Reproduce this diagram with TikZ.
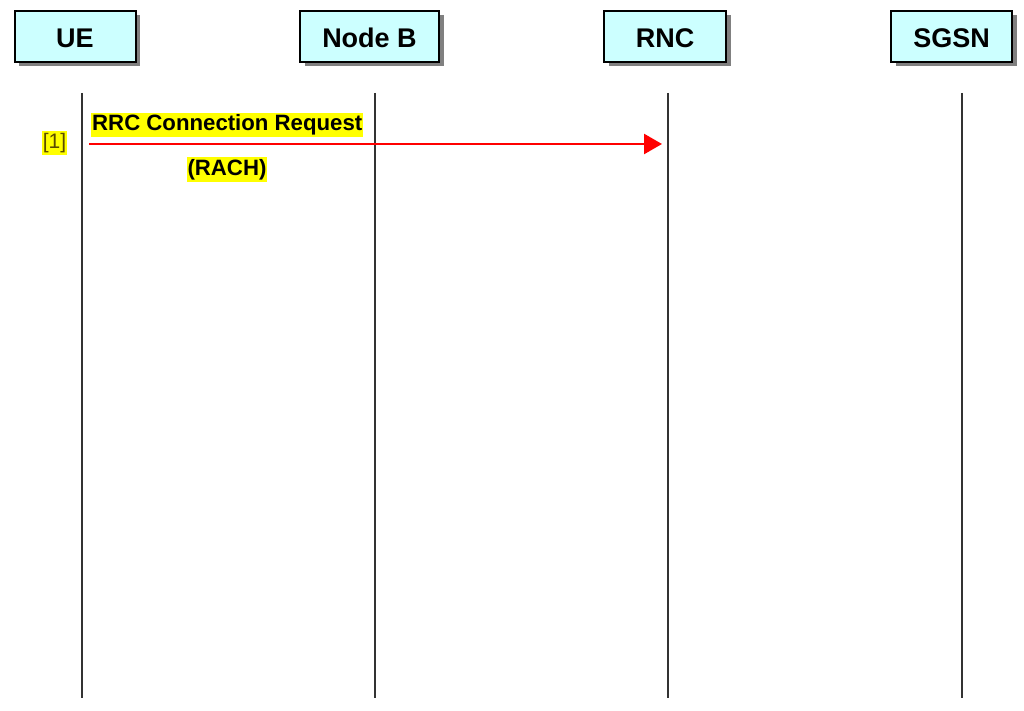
\documentclass[tikz,border=0pt]{standalone}
\usepackage{fontspec}
\setmainfont{Liberation Sans}
\usetikzlibrary{arrows.meta,shadows}
\definecolor{boxfill}{HTML}{CCFFFF}
\definecolor{hl}{HTML}{FFFF00}
\definecolor{stepcol}{HTML}{5A4A00}
\tikzset{
  entity/.style={draw=black, line width=2pt, fill=boxfill, minimum height=51pt, inner sep=0pt,
    font=\bfseries\fontsize{27}{30}\selectfont, text=black, text height=22pt, text depth=0pt,
    drop shadow={shadow xshift=4.5pt, shadow yshift=-4.5pt, fill=black!50, opacity=1}},
  lifeline/.style={line width=1.6pt, draw=black!80},
  msg/.style={draw=red, line width=2.6pt, -{Triangle[length=18pt,width=20pt]}},
  msglabel/.style={fill=hl, inner xsep=1pt, inner ysep=2pt, font=\bfseries\fontsize{22.2}{25}\selectfont, text=black},
  steplabel/.style={fill=hl, inner xsep=1pt, inner ysep=2pt, font=\fontsize{21}{24}\selectfont, text=stepcol}
}
\begin{document}
\begin{tikzpicture}[x=1pt,y=-1pt]
\useasboundingbox (0,0) rectangle (1024,711);
\node[entity, minimum width=121pt] (ue) at (75,36.5) {UE};
\node[entity, minimum width=139pt] (nb) at (369.5,36.5) {Node B};
\node[entity, minimum width=122pt] (rnc) at (665,36.5) {RNC};
\node[entity, minimum width=121pt] (sgsn) at (951.5,36.5) {SGSN};
\coordinate (ueT) at (82,93); \coordinate (ueB) at (82,698);
\coordinate (nbT) at (375,93); \coordinate (nbB) at (375,698);
\coordinate (rncT) at (668,93); \coordinate (rncB) at (668,698);
\coordinate (sgT) at (962,93); \coordinate (sgB) at (962,698);
\draw[lifeline] (ueT) -- (ueB);
\draw[lifeline] (nbT) -- (nbB);
\draw[lifeline] (rncT) -- (rncB);
\draw[lifeline] (sgT) -- (sgB);
\coordinate (m1s) at (89,144);
\coordinate (m1e) at (662,144);
\draw[msg] (m1s) -- (m1e);
\node[msglabel, anchor=west] (l1) at (91,125) {RRC Connection Request};
\node[msglabel] (l2) at (227,169.5) {(RACH)};
\node[steplabel] (s1) at (54.5,143) {[1]};
\end{tikzpicture}
\end{document}
